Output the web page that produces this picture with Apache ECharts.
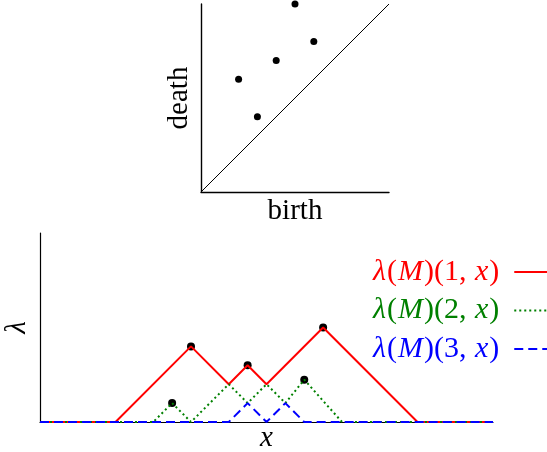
<!DOCTYPE html>
<html>
<head>
<meta charset="utf-8">
<script src="https://cdn.jsdelivr.net/npm/echarts@6/dist/echarts.min.js"></script>
<style>
html, body { margin: 0; padding: 0; background: #fff; }
#chart { width: 547px; height: 452px; }
</style>
</head>
<body>
<div id="chart"></div>
<script>
// persistence diagram: [birth, death]
var diagramPoints = [[2, 6], [3, 4], [4, 7], [5, 10], [6, 8]];
var diagonal = [[0, 0], [10, 10]];

// landscape breakpoints [x, lambda]
var lambda1 = [[0, 0], [2, 0], [4, 2], [5, 1], [5.5, 1.5], [6, 1], [7.5, 2.5], [10, 0], [12, 0]];
var lambda2 = [[0, 0], [3, 0], [3.5, 0.5], [4, 0], [5, 1], [5.5, 0.5], [6, 1], [6.5, 0.5], [7, 1.12], [8, 0], [12, 0]];
var lambda3 = [[0, 0], [5, 0], [5.5, 0.5], [6, 0], [6.5, 0.5], [7, 0], [12, 0]];
var peaks = [[3.5, 0.5], [4, 2], [5.5, 1.5], [7, 1.12], [7.5, 2.5]];

var seriesNames = ['lambda1', 'lambda2', 'lambda3'];
var seriesColors = ['#ff0000', '#008000', '#0000ff'];

var FONT = 'Liberation Serif';
var FS = 29;

function axisStyle(w) {
    return {
        axisLine: { lineStyle: { color: '#000', width: w } },
        axisTick: { show: false },
        axisLabel: { show: false },
        splitLine: { show: false }
    };
}

var rich = {};
['r', 'g', 'b'].forEach(function (c, i) {
    rich[c + 'i'] = { color: seriesColors[i], fontFamily: FONT, fontSize: 30, fontStyle: 'italic', lineHeight: 30, padding: [0, 1, 0, 1] };
    rich[c + 'n'] = { color: seriesColors[i], fontFamily: FONT, fontSize: 30, lineHeight: 30 };
});

var chart = echarts.init(document.getElementById('chart'));
chart.setOption({
    animation: false,
    grid: [
        { left: 201, top: 4, width: 188, height: 188, outerBoundsMode: 'none', containLabel: false },
        { left: 40, top: 233, width: 453, height: 189, outerBoundsMode: 'none', containLabel: false }
    ],
    xAxis: [
        Object.assign({
            gridIndex: 0, type: 'value', min: 0, max: 10,
            name: 'birth', nameLocation: 'middle', nameGap: 5,
            nameTextStyle: { fontFamily: FONT, fontSize: FS, color: '#000' }
        }, axisStyle(1.4)),
        Object.assign({
            gridIndex: 1, type: 'value', min: 0, max: 12,
            name: 'x', nameLocation: 'middle', nameGap: 2,
            nameTextStyle: { fontFamily: FONT, fontSize: FS, fontStyle: 'italic', color: '#000' }
        }, axisStyle(1.2))
    ],
    yAxis: [
        Object.assign({
            gridIndex: 0, type: 'value', min: 0, max: 10,
            name: 'death', nameLocation: 'middle', nameGap: 7, nameRotate: 90,
            nameTextStyle: { fontFamily: FONT, fontSize: FS, color: '#000' }
        }, axisStyle(1.4)),
        Object.assign({
            gridIndex: 1, type: 'value', min: 0, max: 5,
            name: 'λ', nameLocation: 'middle', nameGap: 8, nameRotate: 90,
            nameTextStyle: { fontFamily: FONT, fontSize: FS, fontStyle: 'italic', color: '#000' }
        }, axisStyle(1.2))
    ],
    legend: {
        orient: 'vertical',
        left: 372,
        top: 257,
        padding: 0,
        align: 'right',
        itemWidth: 40,
        itemHeight: 14,
        itemGap: 8.5,
        itemStyle: { opacity: 0 },
        textStyle: { padding: [0, 10, 0, 0], rich: rich },
        data: seriesNames,
        formatter: function (name) {
            var i = seriesNames.indexOf(name);
            var c = ['r', 'g', 'b'][i];
            return '{' + c + 'i|λ}{' + c + 'n|(}{' + c + 'i|M}{' + c + 'n|)(' + (i + 1) + ', }{' + c + 'i|x}{' + c + 'n|)}';
        }
    },
    series: [
        {
            type: 'line', xAxisIndex: 0, yAxisIndex: 0, data: diagonal,
            symbol: 'none', silent: true,
            lineStyle: { color: '#000', width: 1 }
        },
        {
            type: 'scatter', xAxisIndex: 0, yAxisIndex: 0, data: diagramPoints,
            symbolSize: 7, itemStyle: { color: '#000', opacity: 1 }
        },
        {
            name: seriesNames[0], type: 'line', xAxisIndex: 1, yAxisIndex: 1, data: lambda1,
            symbol: 'none', lineStyle: { color: seriesColors[0], width: 2 }, itemStyle: { color: seriesColors[0] }
        },
        {
            name: seriesNames[1], type: 'line', xAxisIndex: 1, yAxisIndex: 1, data: lambda2,
            symbol: 'none', lineStyle: { color: seriesColors[1], width: 2, type: [2, 3] }, itemStyle: { color: seriesColors[1] }
        },
        {
            name: seriesNames[2], type: 'line', xAxisIndex: 1, yAxisIndex: 1, data: lambda3,
            symbol: 'none', lineStyle: { color: seriesColors[2], width: 2, type: [9, 5] }, itemStyle: { color: seriesColors[2] }
        },
        {
            type: 'scatter', xAxisIndex: 1, yAxisIndex: 1, data: peaks,
            symbolSize: 8, itemStyle: { color: '#000', opacity: 1 }
        }
    ]
});
</script>
</body>
</html>
